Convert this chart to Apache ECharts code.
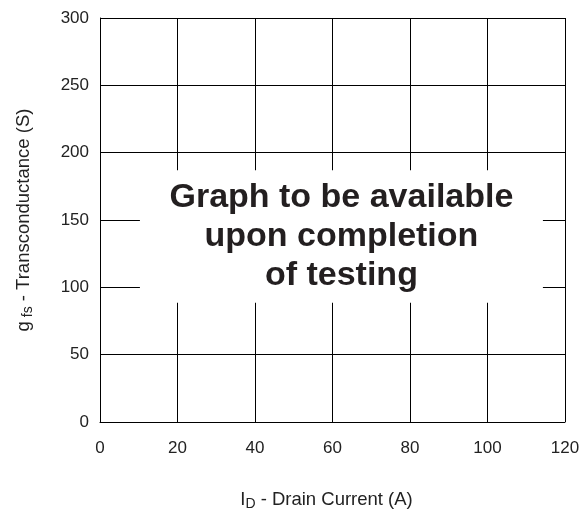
<!DOCTYPE html>
<html>
<head>
<meta charset="utf-8">
<script src="https://cdn.jsdelivr.net/npm/echarts@6/dist/echarts.min.js"></script>
<style>
  html, body { margin: 0; padding: 0; background: #fff; }
  #chart { width: 582px; height: 510px; }
</style>
</head>
<body>
<div id="chart"></div>
<script>
// axis ticks
const xTicks = [0, 20, 40, 60, 80, 100, 120];
const yTicks = [0, 50, 100, 150, 200, 250, 300];
// blank box covering the grid (data coords): [x0, y0] -> [x1, y1]
const boxFrom = [10.3, 88.5];
const boxTo = [114.3, 187];
const noteLines = ["Graph to be available", "upon completion", "of testing"];

const myChart = echarts.init(document.getElementById("chart"));

const axisFont = { fontFamily: "Liberation Sans, Arial, sans-serif", color: "#222" };

myChart.setOption({
  animation: false,
  grid: { left: 100, right: 17, top: 18, bottom: 88, containLabel: false, outerBoundsMode: "none" },
  xAxis: {
    type: "value",
    min: xTicks[0],
    max: xTicks[xTicks.length - 1],
    interval: 20,
    axisLine: { show: true, lineStyle: { color: "#000", width: 1 } },
    axisTick: { show: false },
    splitLine: { show: true, lineStyle: { color: "#000", width: 1 } },
    axisLabel: { ...axisFont, fontSize: 17, margin: 18 },
    name: "{n|I}{s|D}{n| - Drain Current (A)}",
    nameLocation: "middle",
    nameGap: 66,
    nameTextStyle: {
      padding: [0, 12, 0, 0],
      rich: {
        n: { ...axisFont, fontSize: 18.5 },
        s: { ...axisFont, fontSize: 14, verticalAlign: "bottom", padding: [9, 0, 0, 0] },
      },
    },
  },
  yAxis: {
    type: "value",
    min: yTicks[0],
    max: yTicks[yTicks.length - 1],
    interval: 50,
    axisLine: { show: true, lineStyle: { color: "#000", width: 1 } },
    axisTick: { show: false },
    splitLine: { show: true, lineStyle: { color: "#000", width: 1 } },
    axisLabel: { ...axisFont, fontSize: 17, margin: 11 },
    name: "{n|g}{s| fs}{n| - Transconductance (S)}",
    nameLocation: "middle",
    nameGap: 65,
    nameTextStyle: {
      rich: {
        n: { ...axisFont, fontSize: 18.5 },
        s: { ...axisFont, fontSize: 14, verticalAlign: "bottom", padding: [9, 0, 0, 0] },
      },
    },
  },
  series: [
    {
      type: "line",
      data: [],
      markArea: {
        silent: true,
        itemStyle: { color: "#fff", opacity: 1 },
        label: {
          show: true,
          position: "inside",
          formatter: noteLines.join("\n"),
          fontFamily: "Liberation Sans, Arial, sans-serif",
          fontWeight: "bold",
          fontSize: 34,
          lineHeight: 39,
          color: "#231f20",
          align: "center",
        },
        data: [[{ coord: boxFrom }, { coord: boxTo }]],
      },
    },
  ],
});
</script>
</body>
</html>
